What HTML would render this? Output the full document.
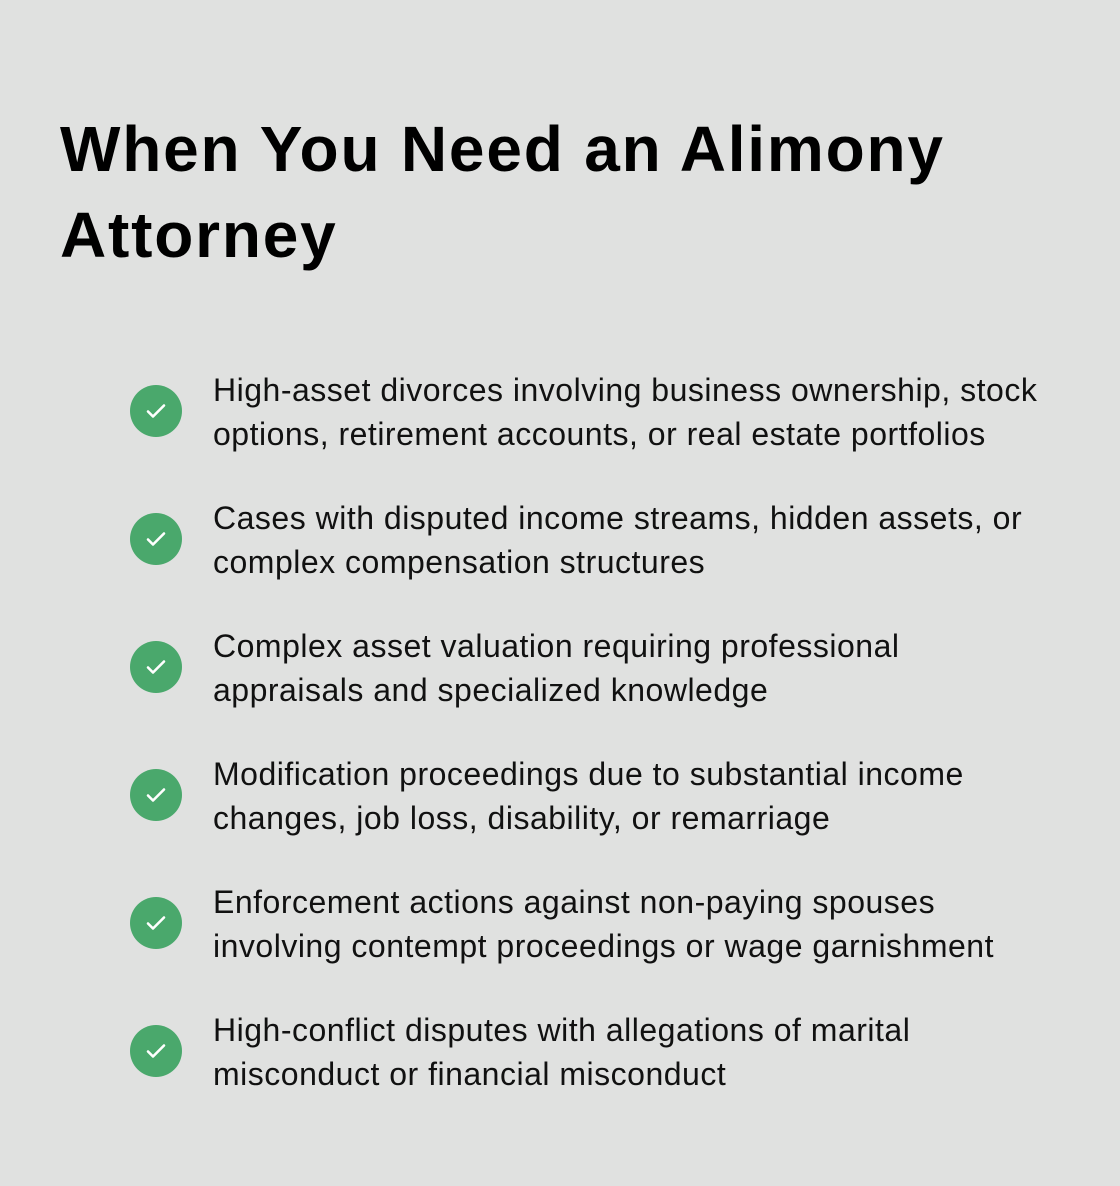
<!DOCTYPE html>
<html><head><style>
body{margin:0;width:1120px;height:1186px;background:#e0e1e0;font-family:"Liberation Sans",sans-serif;color:#111;position:relative;overflow:hidden}
h1{position:absolute;left:60px;top:106px;margin:0;font-size:64px;line-height:86px;font-weight:bold;letter-spacing:1.8px;color:#000}
.item{position:absolute;left:0;width:1120px}
.c{position:absolute;left:130px;width:52px;height:52px;border-radius:50%;background:#4aa86c}
.c svg{position:absolute;left:14px;top:14px}
.t{position:absolute;left:213px;top:0px;font-size:32px;line-height:44px;letter-spacing:0.5px;white-space:nowrap}
</style></head><body>
<h1>When You Need an Alimony<br>Attorney</h1>
<div class="item" style="top:368px"><div class="c" style="top:17px"><svg width="24" height="24" viewBox="0 0 24 24"><path d="M4 12.5l5 5 11-11" stroke="#fff" stroke-width="2.6" fill="none" stroke-linecap="round" stroke-linejoin="round"/></svg></div><div class="t">High-asset divorces involving business ownership, stock<br>options, retirement accounts, or real estate portfolios</div></div>
<div class="item" style="top:496px"><div class="c" style="top:17px"><svg width="24" height="24" viewBox="0 0 24 24"><path d="M4 12.5l5 5 11-11" stroke="#fff" stroke-width="2.6" fill="none" stroke-linecap="round" stroke-linejoin="round"/></svg></div><div class="t">Cases with disputed income streams, hidden assets, or<br>complex compensation structures</div></div>
<div class="item" style="top:624px"><div class="c" style="top:17px"><svg width="24" height="24" viewBox="0 0 24 24"><path d="M4 12.5l5 5 11-11" stroke="#fff" stroke-width="2.6" fill="none" stroke-linecap="round" stroke-linejoin="round"/></svg></div><div class="t">Complex asset valuation requiring professional<br>appraisals and specialized knowledge</div></div>
<div class="item" style="top:752px"><div class="c" style="top:17px"><svg width="24" height="24" viewBox="0 0 24 24"><path d="M4 12.5l5 5 11-11" stroke="#fff" stroke-width="2.6" fill="none" stroke-linecap="round" stroke-linejoin="round"/></svg></div><div class="t">Modification proceedings due to substantial income<br>changes, job loss, disability, or remarriage</div></div>
<div class="item" style="top:880px"><div class="c" style="top:17px"><svg width="24" height="24" viewBox="0 0 24 24"><path d="M4 12.5l5 5 11-11" stroke="#fff" stroke-width="2.6" fill="none" stroke-linecap="round" stroke-linejoin="round"/></svg></div><div class="t">Enforcement actions against non-paying spouses<br>involving contempt proceedings or wage garnishment</div></div>
<div class="item" style="top:1008px"><div class="c" style="top:17px"><svg width="24" height="24" viewBox="0 0 24 24"><path d="M4 12.5l5 5 11-11" stroke="#fff" stroke-width="2.6" fill="none" stroke-linecap="round" stroke-linejoin="round"/></svg></div><div class="t">High-conflict disputes with allegations of marital<br>misconduct or financial misconduct</div></div>
</body></html>
